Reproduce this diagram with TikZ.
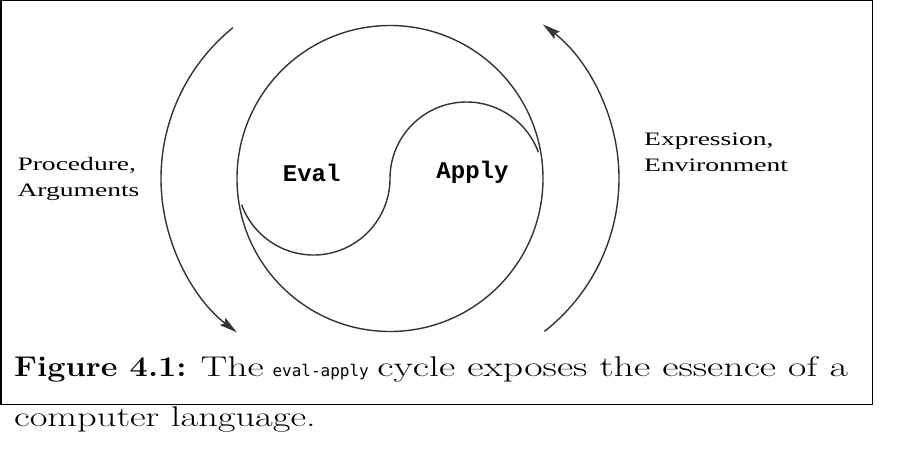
\documentclass[tikz,border=0pt]{standalone}
\usepackage{fontspec}
\usepackage{graphicx}
\usetikzlibrary{arrows.meta}

\newfontfamily\labelfont{Liberation Serif}
\newfontfamily\codefont{Liberation Mono}
\newfontfamily\capcode{DejaVu Sans Mono}
\newcommand{\widetext}[1]{\scalebox{1.45}[1]{#1}}
\newcommand{\capwide}[2][1.4]{\scalebox{#1}[1]{#2}}

\tikzset{
  cycle line/.style = {line width=1.4pt, black!80},
  cycle arrow/.style = {cycle line, -{Stealth[length=18pt, width=9pt, inset=3pt]}},
  side label/.style = {font=\labelfont\fontsize{19}{26}\selectfont, align=left, anchor=base west, inner sep=0pt},
  stage/.style = {font=\codefont\bfseries\fontsize{24}{24}\selectfont, anchor=base, inner sep=0pt},
  caption/.style = {font=\fontsize{28.5}{30}\selectfont, anchor=base west, inner sep=0pt}
}

\begin{document}
\begin{tikzpicture}[x=1pt, y=1pt]
    \useasboundingbox (0,0) rectangle (900,451);
    % frame round the figure and the first caption line
    \draw[line width=1.5pt] (0.75,46.5) rectangle (872.5,450.25);

    \coordinate (hub) at (390,272.5);
    % inner circle with the S-shaped divide
    \draw[cycle line] (hub) circle[radius=153];
    \draw[cycle line] ([xshift=-76.5pt]hub) ++(200:76.5) arc[start angle=200, end angle=360, radius=76.5]
        arc[start angle=180, end angle=20, radius=76.5];

    % outer arrows of the cycle
    \draw[cycle arrow] ([xshift=-35pt]hub) ++(129:194) arc[start angle=129, end angle=232.5, radius=194];
    \draw[cycle arrow] ([xshift=35pt]hub) ++(-52:194) arc[start angle=-52, end angle=52.6, radius=194];

    \node[stage] (eval) at (311.7,269.3) {Eval};
    \node[stage] (apply) at (472.5,272.7) {Apply};
    % base anchor sits on the second line
    \node[side label] (procargs) at (17.3,254.3) {\widetext{Procedure,}\\\widetext{Arguments}};
    \node[side label] (exprenv) at (644,279.3) {\widetext{Expression,}\\\widetext{Environment}};

    % caption, broken over two lines
    \node[caption] (figcap) at (14,74.3) {\capwide[1.14]{\textbf{Figure 4.1:}}\hspace{14pt}\capwide{The} {\capcode\fontsize{16}{16}\selectfont eval-apply} \capwide{cycle exposes the essence of a}};
    \node[caption] (figcapend) at (14,24.3) {\capwide[1.35]{computer language.}};
\end{tikzpicture}
\end{document}
